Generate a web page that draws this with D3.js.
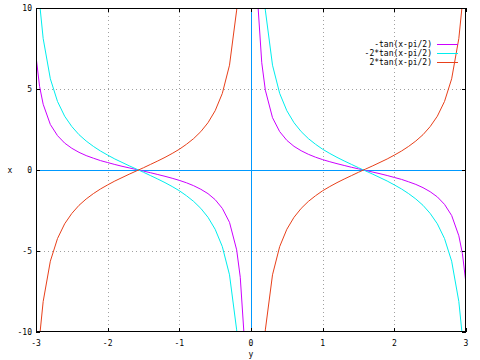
<!DOCTYPE html>
<html><head><meta charset="utf-8">
<script src="https://cdn.jsdelivr.net/npm/d3@7"></script>
<style>body{margin:0;background:#fff}svg{display:block}text{font-family:"DejaVu Sans Mono",monospace;font-size:8px;fill:#000}</style>
</head><body>
<script>
const xs = [-3.0,-2.95,-2.9,-2.8,-2.7,-2.6,-2.5,-2.4,-2.3,-2.2,-2.1,-2.0,-1.9,-1.8,-1.7,-1.6,-1.5,-1.4,-1.3,-1.2,-1.1,-1.0,-0.9,-0.8,-0.7,-0.6,-0.5,-0.4,-0.3,-0.2,-0.15,-0.1,-0.05,0,
 0.05,0.1,0.15,0.2,0.3,0.4,0.5,0.6,0.7,0.8,0.9,1.0,1.1,1.2,1.3,1.4,1.5,1.6,1.7,1.8,1.9,2.0,2.1,2.2,2.3,2.4,2.5,2.6,2.7,2.8,2.9,2.95,3.0];
const magenta = [7.02,5.16,4.06,2.81,2.12,1.66,1.34,1.09,0.89,0.73,0.58,0.46,0.34,0.23,0.13,0.03,-0.07,-0.17,-0.28,-0.39,-0.51,-0.64,-0.79,-0.97,-1.19,-1.46,-1.83,-2.37,-3.23,-4.93,-6.62,-9.97,-19.98,null,
 19.98,9.97,6.62,4.93,3.23,2.37,1.83,1.46,1.19,0.97,0.79,0.64,0.51,0.39,0.28,0.17,0.07,-0.03,-0.13,-0.23,-0.34,-0.46,-0.58,-0.73,-0.89,-1.09,-1.34,-1.66,-2.12,-2.81,-4.06,-5.16,-7.02];
const cyan = [14.03,10.31,8.12,5.63,4.23,3.32,2.68,2.18,1.79,1.46,1.17,0.92,0.68,0.47,0.26,0.06,-0.14,-0.35,-0.56,-0.78,-1.02,-1.28,-1.59,-1.94,-2.37,-2.92,-3.66,-4.73,-6.47,-9.87,-13.23,-19.93,-39.97,null,
 39.97,19.93,13.23,9.87,6.47,4.73,3.66,2.92,2.37,1.94,1.59,1.28,1.02,0.78,0.56,0.35,0.14,-0.06,-0.26,-0.47,-0.68,-0.92,-1.17,-1.46,-1.79,-2.18,-2.68,-3.32,-4.23,-5.63,-8.12,-10.31,-14.03];
const red = [-14.03,-10.31,-8.12,-5.63,-4.23,-3.32,-2.68,-2.18,-1.79,-1.46,-1.17,-0.92,-0.68,-0.47,-0.26,-0.06,0.14,0.35,0.56,0.78,1.02,1.28,1.59,1.94,2.37,2.92,3.66,4.73,6.47,9.87,13.23,19.93,39.97,null,
 -39.97,-19.93,-13.23,-9.87,-6.47,-4.73,-3.66,-2.92,-2.37,-1.94,-1.59,-1.28,-1.02,-0.78,-0.56,-0.35,-0.14,0.06,0.26,0.47,0.68,0.92,1.17,1.46,1.79,2.18,2.68,3.32,4.23,5.63,8.12,10.31,14.03];
const seriesNames = ["-tan(x-pi/2)","-2*tan(x-pi/2)","2*tan(x-pi/2)"];
const seriesColors = ["#cc00ff","#00eeee","#e8401a"];
const xTicks = [-3,-2,-1,0,1,2,3];
const yTicks = [-10,-5,0,5,10];

const W=480,H=360,L=36,R=466,T=8,B=332;
const svg=d3.select("body").append("svg").attr("width",W).attr("height",H);
const x=d3.scaleLinear().domain([-3,3]).range([L,R]);
const y=d3.scaleLinear().domain([-10,10]).range([B,T]);

svg.append("defs").append("clipPath").attr("id","c").append("rect")
 .attr("x",L).attr("y",T).attr("width",R-L).attr("height",B-T);

// grid
const g=svg.append("g");
xTicks.slice(1,-1).forEach(t=>g.append("line").attr("x1",Math.round(x(t))+0.5).attr("x2",Math.round(x(t))+0.5)
 .attr("y1",T).attr("y2",B).attr("stroke","#a0a0a0").attr("stroke-dasharray","1,3"));
yTicks.slice(1,-1).forEach(t=>g.append("line").attr("y1",Math.round(y(t))+0.5).attr("y2",Math.round(y(t))+0.5)
 .attr("x1",L).attr("x2",R).attr("stroke","#a0a0a0").attr("stroke-dasharray","1,3"));

// zero axes
svg.append("line").attr("x1",L).attr("x2",R).attr("y1",Math.round(y(0))+0.5).attr("y2",Math.round(y(0))+0.5).attr("stroke","#0099ff");
svg.append("line").attr("y1",T).attr("y2",B).attr("x1",Math.round(x(0))+0.5).attr("x2",Math.round(x(0))+0.5).attr("stroke","#0099ff");

// curves
const data=[magenta,cyan,red];
const line=d3.line().defined(d=>d[1]!==null).x(d=>x(d[0])).y(d=>y(d[1]));
const cg=svg.append("g").attr("clip-path","url(#c)");
data.forEach((s,i)=>{
  cg.append("path").attr("d",line(xs.map((v,j)=>[v,s[j]]))).attr("fill","none")
   .attr("stroke",seriesColors[i]).attr("stroke-width",1);
});

// border
svg.append("rect").attr("x",L+0.5).attr("y",T+0.5).attr("width",R-L-1).attr("height",B-T-1)
 .attr("fill","none").attr("stroke","#000");

// ticks
const tk=svg.append("g").attr("stroke","#000");
xTicks.forEach(t=>{const p=Math.round(x(t))+0.5;
 tk.append("line").attr("x1",p).attr("x2",p).attr("y1",B).attr("y2",B-4);
 tk.append("line").attr("x1",p).attr("x2",p).attr("y1",T).attr("y2",T+4);});
yTicks.forEach(t=>{const p=Math.round(y(t))+0.5;
 tk.append("line").attr("x1",L).attr("x2",L+4).attr("y1",p).attr("y2",p);
 tk.append("line").attr("x1",R).attr("x2",R-4).attr("y1",p).attr("y2",p);});

// tick labels
xTicks.forEach(t=>svg.append("text").attr("x",x(t)).attr("y",346).attr("text-anchor","middle").text(t));
yTicks.forEach(t=>svg.append("text").attr("x",32).attr("y",y(t)+3).attr("text-anchor","end").text(t));

// axis titles
svg.append("text").attr("x",10).attr("y",173).attr("text-anchor","middle").text("x");
svg.append("text").attr("x",251).attr("y",357).attr("text-anchor","middle").text("y");

// legend
seriesNames.forEach((n,i)=>{
  const ly=44+i*9;
  svg.append("text").attr("x",432).attr("y",ly+3).attr("text-anchor","end").text(n);
  svg.append("line").attr("x1",437).attr("x2",458).attr("y1",ly+0.5).attr("y2",ly+0.5).attr("stroke",seriesColors[i]);
});
</script>
</body></html>
